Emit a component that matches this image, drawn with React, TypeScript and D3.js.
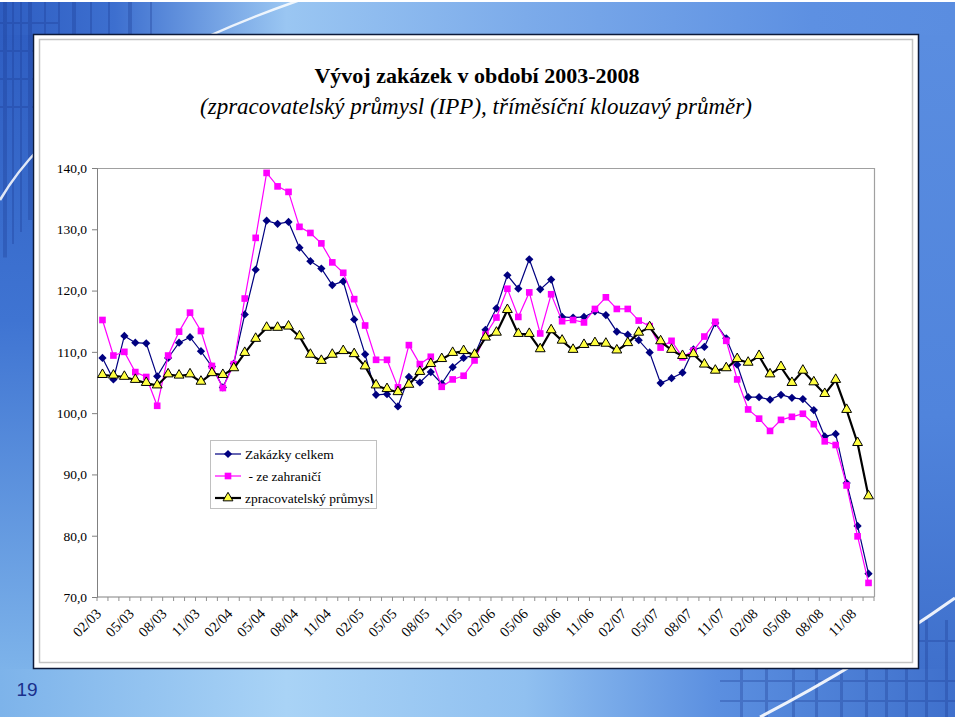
import React from 'react';
import { useRef, useEffect } from 'react';
import * as d3 from 'd3';

// monthly categories 02/03 .. 12/08
const years = ['03', '04', '05', '06', '07', '08'];
const months = ['01', '02', '03', '04', '05', '06', '07', '08', '09', '10', '11', '12'];
const categories: string[] = [];
years.forEach((y) => months.forEach((m) => categories.push(m + '/' + y)));
categories.shift(); // series starts in 02/03

const tickLabels = [
  '02/03', '05/03', '08/03', '11/03', '02/04', '05/04', '08/04', '11/04',
  '02/05', '05/05', '08/05', '11/05', '02/06', '05/06', '08/06', '11/06',
  '02/07', '05/07', '08/07', '11/07', '02/08', '05/08', '08/08', '11/08',
];

const yTicks = [70, 80, 90, 100, 110, 120, 130, 140];

const zakazkyCelkem = [
  109.0, 105.5, 112.6, 111.5, 111.4, 106.0, 109.0, 111.5, 112.4, 110.1, 107.6, 104.2,
  108.1, 116.1, 123.4, 131.4, 130.9, 131.2, 127.0, 124.8, 123.6, 120.9, 121.5, 115.3,
  109.6, 103.0, 103.1, 101.1, 105.9, 105.0, 106.7, 104.8, 107.5, 109.0, 109.5, 113.6,
  117.1, 122.5, 120.3, 125.1, 120.2, 121.8, 115.7, 115.6, 115.7, 116.6, 116.0, 113.3,
  112.8, 111.9, 109.9, 104.9, 105.7, 106.6, 110.4, 110.8, 114.7, 112.2, 107.9, 102.6,
  102.6, 102.2, 103.0, 102.5, 102.3, 100.5, 96.2, 96.6, 88.6, 81.6, 73.8,
];

const zeZahranici = [
  115.2, 109.4, 110.0, 106.7, 105.9, 101.2, 109.4, 113.3, 116.4, 113.4, 107.7, 104.1,
  108.0, 118.7, 128.6, 139.2, 137.0, 136.1, 130.4, 129.4, 127.7, 124.6, 122.9, 118.6,
  114.3, 108.7, 108.7, 104.2, 111.1, 108.0, 109.2, 104.3, 105.5, 106.1, 108.6, 112.8,
  115.6, 120.3, 115.7, 119.7, 113.0, 119.4, 115.0, 115.2, 114.8, 117.0, 118.9, 117.0,
  117.0, 115.1, 114.2, 110.7, 111.8, 109.1, 110.2, 112.5, 114.9, 111.8, 105.5, 100.6,
  99.1, 97.1, 98.9, 99.4, 99.9, 98.2, 95.4, 94.8, 88.2, 79.9, 72.3,
];

const zpracovatelsky = [
  106.2, 106.1, 105.9, 105.4, 104.9, 104.5, 106.3, 106.1, 106.3, 105.1, 106.5, 106.2,
  107.3, 109.8, 112.1, 113.9, 113.9, 114.1, 112.5, 109.5, 108.5, 109.5, 110.1, 109.6,
  107.6, 104.5, 103.9, 103.4, 104.6, 106.7, 108.0, 108.8, 109.8, 110.1, 109.5, 112.3,
  113.1, 116.8, 112.9, 112.9, 110.4, 113.5, 111.8, 110.3, 111.1, 111.4, 111.3, 110.2,
  111.4, 113.1, 114.0, 111.7, 110.3, 109.3, 109.6, 107.9, 106.9, 107.3, 108.8, 108.2,
  109.3, 106.3, 107.5, 104.9, 106.9, 105.0, 103.1, 105.4, 100.5, 95.1, 86.4,
];

const seriesNames = ['Zakázky celkem', ' - ze zahraničí', 'zpracovatelský průmysl'];

const FONT = '"Liberation Serif", "Times New Roman", serif';

// excel-like square diamond
const squareDiamond = {
  draw(ctx: any, size: number) {
    const r = Math.sqrt(size / 2);
    ctx.moveTo(0, -r);
    ctx.lineTo(r, 0);
    ctx.lineTo(0, r);
    ctx.lineTo(-r, 0);
    ctx.closePath();
  },
};

export default function App() {
  const svgRef = useRef<SVGSVGElement>(null);

  useEffect(() => {
    const svg = d3.select(svgRef.current);
    svg.selectAll('*').remove();

    const W = 960;
    const H = 720;

    // ---- slide background
    const defs = svg.append('defs');
    const grad = (id: string, vertical: boolean, stops: [number, string][]) => {
      const g = defs.append('linearGradient').attr('id', id)
        .attr('x1', 0).attr('y1', 0).attr('x2', vertical ? 0 : 1).attr('y2', vertical ? 1 : 0);
      stops.forEach(([o, c]) => g.append('stop').attr('offset', o).attr('stop-color', c));
    };
    grad('topBand', false, [[0, '#2f5ec2'], [0.12, '#3d6fcf'], [0.3, '#9ac6f2'], [0.55, '#7cabea'], [0.85, '#5d90e2'], [1, '#5a8de0']]);
    grad('botBand', false, [[0, '#7db3ea'], [0.3, '#a9d3f6'], [0.55, '#90c0f0'], [0.75, '#5b8fe0'], [1, '#3f70cc']]);
    grad('leftStrip', true, [[0, '#2f5ec2'], [0.45, '#3f74d2'], [1, '#7db3ea']]);
    grad('rightStrip', true, [[0, '#5a8de0'], [0.6, '#5084dc'], [1, '#3f70cc']]);

    svg.append('rect').attr('width', W).attr('height', H).attr('fill', '#ffffff');
    svg.append('rect').attr('x', 0).attr('y', 2).attr('width', 955).attr('height', 34).attr('fill', 'url(#topBand)');
    svg.append('rect').attr('x', 0).attr('y', 668).attr('width', 955).attr('height', 49).attr('fill', 'url(#botBand)');
    svg.append('rect').attr('x', 0).attr('y', 35).attr('width', 34).attr('height', 634).attr('fill', 'url(#leftStrip)');
    svg.append('rect').attr('x', 918).attr('y', 35).attr('width', 37).attr('height', 634).attr('fill', 'url(#rightStrip)');

    // dark grid stripes top-left and bottom-right
    const stripes = svg.append('g').attr('opacity', 0.3);
    [3, 12, 20, 28, 44, 58, 72, 90, 108, 128, 150].forEach((x, i) => {
      stripes.append('rect').attr('x', x).attr('y', 2).attr('width', i % 3 === 0 ? 4 : 2).attr('height', 260 - x * 1.5)
        .attr('fill', '#1a3890');
    });
    [22, 50, 78, 106].forEach((y) => {
      stripes.append('rect').attr('x', 0).attr('y', y).attr('width', 60).attr('height', 2).attr('fill', '#1a3890');
    });
    [740, 765, 792, 815, 840, 865, 885, 905, 925, 945].forEach((x) => {
      stripes.append('rect').attr('x', x).attr('y', 620).attr('width', 3).attr('height', 97).attr('fill', '#1a3890');
    });
    [640, 680, 700].forEach((y) => {
      stripes.append('rect').attr('x', 720).attr('y', y).attr('width', 235).attr('height', 2).attr('fill', '#1a3890');
    });
    svg.append('path').attr('d', 'M0,200 Q70,80 300,0').attr('fill', 'none').attr('stroke', '#ffffff').attr('stroke-width', 2.5).attr('opacity', 0.85);
    svg.append('path').attr('d', 'M760,717 Q860,665 955,598').attr('fill', 'none').attr('stroke', '#ffffff').attr('stroke-width', 3).attr('opacity', 0.9);

    // page number
    svg.append('text').attr('x', 27).attr('y', 696).attr('text-anchor', 'middle')
      .style('font-family', 'Arial, "Liberation Sans", sans-serif').style('font-size', '19px')
      .style('fill', '#1a2f8c').text('19');

    // ---- chart frame
    svg.append('rect').attr('x', 33.5).attr('y', 34.5).attr('width', 885).attr('height', 634)
      .attr('fill', '#ffffff').attr('stroke', '#0d1a3a').attr('stroke-width', 1.5);
    svg.append('rect').attr('x', 39.5).attr('y', 39.5).attr('width', 873).attr('height', 623)
      .attr('fill', 'none').attr('stroke', '#c4c4c4').attr('stroke-width', 1.5);

    // title
    svg.append('text').attr('x', 477).attr('y', 83).attr('text-anchor', 'middle')
      .style('font-family', FONT).style('font-size', '22px').style('font-weight', 'bold').style('fill', '#000')
      .text('Vývoj zakázek v období 2003-2008');
    svg.append('text').attr('x', 476).attr('y', 114).attr('text-anchor', 'middle')
      .style('font-family', FONT).style('font-size', '23px').style('font-style', 'italic').style('fill', '#000')
      .text('(zpracovatelský průmysl (IPP), tříměsíční klouzavý průměr)');

    // ---- plot
    const left = 97;
    const right = 874;
    const top = 168;
    const bottom = 597;

    const x = d3.scaleBand<string>().domain(categories).range([left, right]);
    const cx = (i: number) => (x(categories[i]) as number) + x.bandwidth() / 2;
    const y = d3.scaleLinear().domain([70, 140]).range([bottom, top]);

    // plot border
    svg.append('path').attr('d', `M${left},${top + 0.5}H${right + 0.5}V${bottom}`)
      .attr('fill', 'none').attr('stroke', '#a0a0a0').attr('stroke-width', 1.2);

    // y axis
    const yAxis = svg.append('g').attr('transform', `translate(${left},0)`)
      .call(d3.axisLeft(y).tickValues(yTicks).tickSize(5).tickPadding(5)
        .tickFormat((d) => d3.format('.1f')(d as number).replace('.', ',')));
    yAxis.select('.domain').attr('stroke', '#808080');
    yAxis.selectAll('.tick line').attr('stroke', '#808080');
    yAxis.selectAll('text').style('font-family', FONT).style('font-size', '13.5px').attr('fill', '#000');

    // x axis with ticks on every category boundary
    const xg = svg.append('g').attr('transform', `translate(0,${bottom})`);
    xg.append('line').attr('x1', left).attr('x2', right).attr('stroke', '#808080');
    categories.forEach((c, i) => {
      const xb = (x(c) as number);
      xg.append('line').attr('x1', xb).attr('x2', xb).attr('y1', 0).attr('y2', 4).attr('stroke', '#909090');
      if (i === categories.length - 1) {
        xg.append('line').attr('x1', right).attr('x2', right).attr('y1', 0).attr('y2', 4).attr('stroke', '#909090');
      }
    });
    tickLabels.forEach((lab) => {
      const i = categories.indexOf(lab);
      xg.append('text')
        .attr('transform', `translate(${cx(i) - 4},${14}) rotate(-45)`)
        .attr('text-anchor', 'end').attr('dy', '0.35em')
        .style('font-family', FONT).style('font-size', '14.5px').attr('fill', '#000')
        .text(lab);
    });

    const line = d3.line<number>().x((_, i) => cx(i)).y((d) => y(d));

    const diamond = d3.symbol().type(squareDiamond as any).size(34);
    const square = d3.symbol().type(d3.symbolSquare).size(44);
    const triangle = d3.symbol().type(d3.symbolTriangle).size(42);

    // series 1 - navy diamonds
    svg.append('path').datum(zakazkyCelkem).attr('d', line).attr('fill', 'none')
      .attr('stroke', '#000080').attr('stroke-width', 1.2);
    svg.append('g').selectAll('path').data(zakazkyCelkem).join('path')
      .attr('d', diamond).attr('transform', (d, i) => `translate(${cx(i)},${y(d)})`)
      .attr('fill', '#000080');

    // series 2 - magenta squares
    svg.append('path').datum(zeZahranici).attr('d', line).attr('fill', 'none')
      .attr('stroke', '#ff00ff').attr('stroke-width', 1.2);
    svg.append('g').selectAll('path').data(zeZahranici).join('path')
      .attr('d', square).attr('transform', (d, i) => `translate(${cx(i)},${y(d)})`)
      .attr('fill', '#ff00ff');

    // series 3 - black line, yellow triangles
    svg.append('path').datum(zpracovatelsky).attr('d', line).attr('fill', 'none')
      .attr('stroke', '#000000').attr('stroke-width', 2.2);
    svg.append('g').selectAll('path').data(zpracovatelsky).join('path')
      .attr('d', triangle).attr('transform', (d, i) => `translate(${cx(i)},${y(d) - 0.5})`)
      .attr('fill', '#ffff40').attr('stroke', '#000').attr('stroke-width', 1);

    // ---- legend
    const lg = svg.append('g');
    lg.append('rect').attr('x', 210.5).attr('y', 440.5).attr('width', 166).attr('height', 68)
      .attr('fill', '#fff').attr('stroke', '#c0c0c0');
    const legendStyle = [
      { stroke: '#000080', w: 1.2, sym: diamond, fill: '#000080', ms: 'none' },
      { stroke: '#ff00ff', w: 1.2, sym: square, fill: '#ff00ff', ms: 'none' },
      { stroke: '#000000', w: 2.2, sym: triangle, fill: '#ffff40', ms: '#000' },
    ];
    seriesNames.forEach((name, i) => {
      const ly = 454 + i * 22;
      const s = legendStyle[i];
      lg.append('line').attr('x1', 215).attr('x2', 241).attr('y1', ly).attr('y2', ly)
        .attr('stroke', s.stroke).attr('stroke-width', s.w);
      lg.append('path').attr('d', s.sym).attr('transform', `translate(228,${ly})`)
        .attr('fill', s.fill).attr('stroke', s.ms);
      lg.append('text').attr('x', 245).attr('y', ly).attr('dy', '0.35em')
        .style('font-family', FONT).style('font-size', '13.5px').attr('fill', '#000')
        .style('white-space', 'pre').text(name);
    });
  }, []);

  return (
    <svg ref={svgRef} width={960} height={720} style={{ position: 'absolute', left: 0, top: 0 }} />
  );
}
